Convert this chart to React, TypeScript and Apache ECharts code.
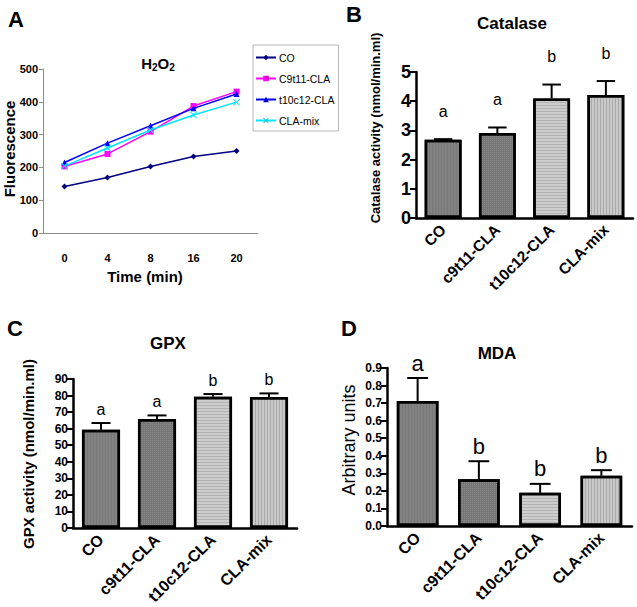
import React, { useEffect, useRef } from "react";
import * as echarts from "echarts";

// ---------- Data ----------
const timeCats = ["0", "4", "8", "16", "20"];
const lineNames = ["CO", "C9t11-CLA", "t10c12-CLA", "CLA-mix"];
const coLine = [142, 169, 203, 233, 250];
const c9Line = [203, 241, 309, 387, 431];
const t10Line = [215, 274, 327, 380, 424];
const mixLine = [204, 259, 314, 360, 399];

const groups = ["CO", "c9t11-CLA", "t10c12-CLA", "CLA-mix"];
const catalaseMean = [2.68, 2.91, 4.09, 4.21];
const catalaseErr = [0.02, 0.19, 0.48, 0.48];
const catalaseLetters = ["a", "a", "b", "b"];

const gpxMean = [59.4, 65.8, 79.3, 79.1];
const gpxErr = [4.0, 2.2, 1.6, 2.2];
const gpxLetters = ["a", "a", "b", "b"];

const mdaMean = [0.712, 0.267, 0.189, 0.286];
const mdaErr = [0.131, 0.102, 0.051, 0.032];
const mdaLetters = ["a", "b", "b", "b"];

// ---------- Styles ----------
const ARIAL = "'Liberation Sans', Arial, Helvetica, sans-serif";

const barStyles = [
  {
    color: "#828282",
    decal: { symbol: "rect", symbolSize: 1, color: "rgba(0,0,0,0.07)", dashArrayX: [1, 2], dashArrayY: [1, 0] },
  },
  {
    color: "#777777",
    decal: { symbol: "rect", symbolSize: 1, color: "rgba(255,255,255,0.12)", dashArrayX: [1, 1], dashArrayY: [1, 1] },
  },
  {
    color: "#cdcdcd",
    decal: { symbol: "rect", symbolSize: 1, color: "rgba(0,0,0,0.13)", dashArrayX: [1, 0], dashArrayY: [1, 2] },
  },
  {
    color: "#c9c9c9",
    decal: { symbol: "rect", symbolSize: 1, color: "rgba(0,0,0,0.16)", dashArrayX: [1, 2], dashArrayY: [1, 0] },
  },
];

function barPanel(
  idx: number,
  means: number[],
  errs: number[],
  letters: string[],
  letterGap: number,
  letterSize: number
) {
  return [
    {
      type: "bar",
      xAxisIndex: idx,
      yAxisIndex: idx,
      barWidth: "68%",
      z: 2,
      data: means.map((m, i) => ({
        value: m,
        itemStyle: {
          color: barStyles[i].color,
          decal: barStyles[i].decal,
          borderColor: "#000",
          borderWidth: 2.5,
        },
      })),
    },
    {
      type: "custom",
      xAxisIndex: idx,
      yAxisIndex: idx,
      z: 5,
      clip: false,
      data: means.map((m, i) => [i, m, errs[i]]),
      renderItem: (params: any, api: any) => {
        const i = api.value(0);
        const m = api.value(1);
        const e = api.value(2);
        const base = api.coord([i, m]);
        const top = api.coord([i, m + e]);
        const half = (api.size([1, 0])[0] * 0.34) / 2;
        return {
          type: "group",
          children: [
            {
              type: "line",
              shape: { x1: base[0], y1: base[1], x2: top[0], y2: top[1] },
              style: { stroke: "#000", lineWidth: 2 },
            },
            {
              type: "line",
              shape: { x1: top[0] - half, y1: top[1], x2: top[0] + half, y2: top[1] },
              style: { stroke: "#000", lineWidth: 2 },
            },
            {
              type: "text",
              x: top[0],
              y: top[1] - letterGap,
              style: {
                text: letters[params.dataIndex],
                align: "center",
                verticalAlign: "middle",
                fontSize: letterSize,
                fontFamily: ARIAL,
                fill: "#000",
              },
            },
          ],
        };
      },
    },
  ];
}

function barXAxis(idx: number, fontSize: number) {
  return {
    type: "category",
    gridIndex: idx,
    data: groups,
    axisLine: { lineStyle: { color: "#000", width: 2.5 } },
    axisTick: { alignWithLabel: true, length: 6, lineStyle: { color: "#000", width: 2 } },
    axisLabel: {
      rotate: 45,
      interval: 0,
      margin: 9,
      color: "#000",
      fontSize,
      fontWeight: "bold",
      fontFamily: ARIAL,
    },
  };
}

function barYAxis(idx: number, max: number, interval: number, fontSize: number, decimals: number) {
  return {
    type: "value",
    gridIndex: idx,
    min: 0,
    max,
    interval,
    splitLine: { show: false },
    axisLine: { show: true, lineStyle: { color: "#000", width: 2.5 } },
    axisTick: { show: true, length: 6, lineStyle: { color: "#000", width: 2 } },
    axisLabel: {
      margin: 5,
      color: "#000",
      fontSize,
      fontWeight: "bold",
      fontFamily: ARIAL,
      formatter: (v: number) => v.toFixed(decimals),
    },
  };
}

function txt(
  text: string,
  x: number,
  y: number,
  fontSize: number,
  bold: boolean,
  rotation = 0
) {
  return {
    type: "text",
    x,
    y,
    rotation,
    style: {
      text,
      align: "center",
      verticalAlign: "middle",
      fontSize,
      fontWeight: bold ? "bold" : "normal",
      fontFamily: ARIAL,
      fill: "#000",
    },
  };
}

export default function App() {
  const ref = useRef<HTMLDivElement>(null);

  useEffect(() => {
    if (!ref.current) return;
    const chart = echarts.init(ref.current, null, { renderer: "svg" });

    const lineColors = ["#000080", "#ff00ff", "#0000ff", "#00e5ff"];
    const lineSymbols = [
      "diamond",
      "rect",
      "triangle",
      "path://M0,1L1,0L5,4L9,0L10,1L6,5L10,9L9,10L5,6L1,10L0,9L4,5Z",
    ];
    const lineData = [coLine, c9Line, t10Line, mixLine];

    const option: any = {
      animation: false,
      backgroundColor: "#fff",
      aria: { enabled: true, decal: { show: true } },
      grid: [
        { left: 43, top: 69, width: 215, height: 164 },
        { left: 416, top: 72, width: 217, height: 146 },
        { left: 73, top: 379, width: 224, height: 149 },
        { left: 387, top: 368, width: 245, height: 158 },
      ],
      legend: {
        data: lineNames,
        orient: "vertical",
        left: 253,
        top: 45,
        padding: [7, 4, 5, 2],
        itemGap: 10,
        itemWidth: 20,
        itemHeight: 7,
        borderColor: "#b8b8b8",
        borderWidth: 1,
        backgroundColor: "#fff",
        textStyle: { fontSize: 10.5, fontFamily: ARIAL, color: "#000", padding: [0, 0, 0, -2] },
      },
      xAxis: [
        {
          type: "category",
          gridIndex: 0,
          data: timeCats,
          boundaryGap: true,
          axisLine: { lineStyle: { color: "#8c8c8c", width: 1 } },
          axisTick: { length: 4, lineStyle: { color: "#8c8c8c" } },
          axisLabel: {
            margin: 19,
            color: "#000",
            fontSize: 11,
            fontWeight: "bold",
            fontFamily: ARIAL,
          },
        },
        barXAxis(1, 15.5),
        barXAxis(2, 16),
        barXAxis(3, 16),
      ],
      yAxis: [
        {
          type: "value",
          gridIndex: 0,
          min: 0,
          max: 500,
          interval: 100,
          splitLine: { show: false },
          axisLine: { show: true, lineStyle: { color: "#8c8c8c", width: 1 } },
          axisTick: { show: true, length: 4, lineStyle: { color: "#8c8c8c" } },
          axisLabel: {
            margin: 5,
            color: "#000",
            fontSize: 11,
            fontWeight: "bold",
            fontFamily: ARIAL,
          },
        },
        barYAxis(1, 5, 1, 18, 0),
        barYAxis(2, 90, 10, 12, 0),
        barYAxis(3, 0.9, 0.1, 12, 1),
      ],
      series: [
        ...lineData.map((d, k) => ({
          type: "line",
          name: lineNames[k],
          xAxisIndex: 0,
          yAxisIndex: 0,
          data: d,
          symbol: lineSymbols[k],
          symbolSize: k === 3 ? 7 : 6,
          lineStyle: { color: lineColors[k], width: 1.5 },
          itemStyle: { color: lineColors[k] },
          z: 3 + k,
        })),
        ...barPanel(1, catalaseMean, catalaseErr, catalaseLetters, 28, 16),
        ...barPanel(2, gpxMean, gpxErr, gpxLetters, 14, 16),
        ...barPanel(3, mdaMean, mdaErr, mdaLetters, 15, 22),
      ],
      graphic: [
        txt("A", 16, 19, 22, true),
        txt("B", 354, 14, 22, true),
        txt("C", 15, 328, 22, true),
        txt("D", 349, 328, 22, true),
        {
          type: "text",
          x: 158,
          y: 63,
          style: {
            text: "{b|H}{s|2}{b|O}{s|2}",
            align: "center",
            verticalAlign: "middle",
            fill: "#000",
            rich: {
              b: { fontSize: 15, fontWeight: "bold", fontFamily: ARIAL, fill: "#000" },
              s: { fontSize: 10, fontWeight: "bold", fontFamily: ARIAL, fill: "#000", padding: [8, 0, 0, 0] },
            },
          },
        },
        txt("Catalase", 512, 23, 17, true),
        txt("GPX", 168, 343, 17, true),
        txt("MDA", 497, 353, 17, true),
        txt("Fluorescence", 9, 149, 15, true, Math.PI / 2),
        txt("Time (min)", 145, 276, 15, true),
        txt("Catalase activity (nmol/min.ml)", 375, 128, 13, true, Math.PI / 2),
        txt("GPX activity (nmol/min.ml)", 28, 454, 15, true, Math.PI / 2),
        txt("Arbitrary units", 349, 440, 18, false, Math.PI / 2),
      ],
    };

    chart.setOption(option);
    return () => chart.dispose();
  }, []);

  return (
    <div
      ref={ref}
      style={{ position: "fixed", left: 0, top: 0, width: 637, height: 607, background: "#fff" }}
    />
  );
}
